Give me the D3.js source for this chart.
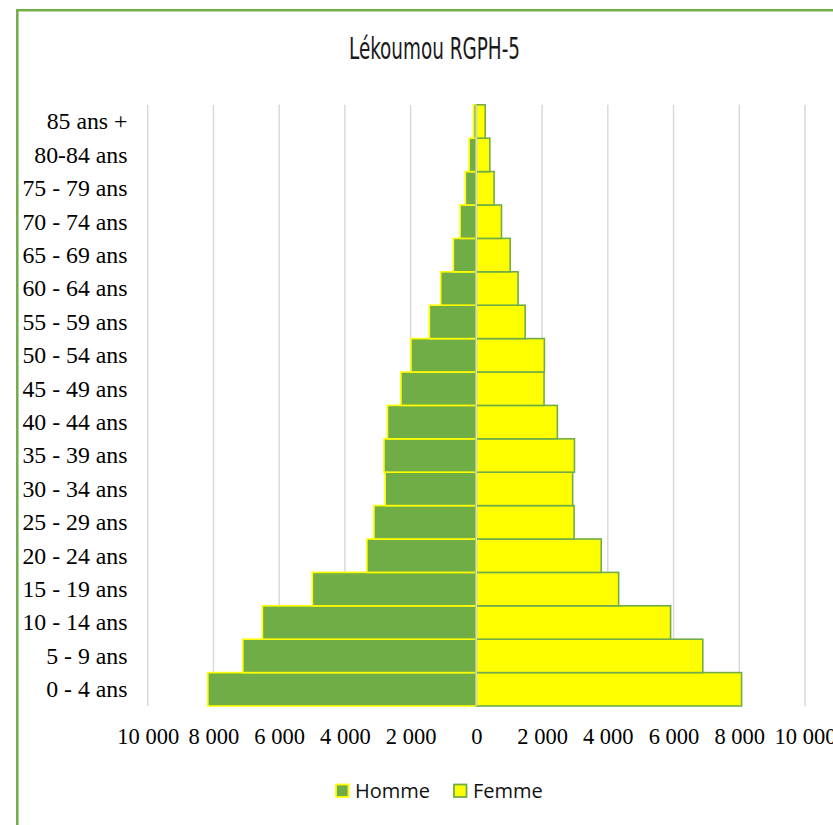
<!DOCTYPE html>
<html>
<head>
<meta charset="utf-8">
<script src="https://cdn.jsdelivr.net/npm/d3@7"></script>
<style>
  body { margin: 0; background: #fff; }
  svg { display: block; }
</style>
</head>
<body>
<svg id="chart" width="833" height="825"></svg>
<script>
// Age groups, bottom to top
const ageGroups = ["0 - 4 ans", "5 - 9 ans", "10 - 14 ans", "15 - 19 ans", "20 - 24 ans",
    "25 - 29 ans", "30 - 34 ans", "35 - 39 ans", "40 - 44 ans", "45 - 49 ans", "50 - 54 ans",
    "55 - 59 ans", "60 - 64 ans", "65 - 69 ans", "70 - 74 ans", "75 - 79 ans", "80-84 ans", "85 ans +"];
const homme = [8170, 7105, 6510, 4990, 3330, 3115, 2775, 2810, 2705, 2295, 1990,
    1430, 1085, 700, 495, 335, 220, 85];
const femme = [8070, 6890, 5910, 4330, 3800, 2975, 2930, 2985, 2465, 2060, 2070,
    1485, 1270, 1030, 765, 540, 410, 270];
const xTicks = [-10000, -8000, -6000, -4000, -2000, 0, 2000, 4000, 6000, 8000, 10000];
const seriesNames = ["Homme", "Femme"];

const green = "#70AD47", yellow = "#FFFF00", grid = "#D9D9D9";

let svg = d3.select("#chart");

// outer frame (runs off the right/bottom edge)
svg.append("rect")
    .attr("x", 17.3).attr("y", 10.2)
    .attr("width", 900).attr("height", 900)
    .attr("fill", "none")
    .attr("stroke", green)
    .attr("stroke-width", 2.5);

let x = d3.scaleLinear().domain([-10000, 10000]).range([147.7, 805]);
let y = d3.scaleBand().domain(ageGroups).range([706, 104.8]).padding(0);

let fr = d3.formatLocale({ decimal: ",", thousands: "\u00a0", grouping: [3], currency: ["", ""] });
let fmt = v => fr.format(",")(Math.abs(v));

// title
svg.append("text")
    .attr("x", 434.5).attr("y", 59.3)
    .attr("text-anchor", "middle")
    .attr("font-family", "'Liberation Sans Narrow', 'DejaVu Sans Condensed', sans-serif")
    .attr("font-size", 30)
    .attr("textLength", 171)
    .attr("lengthAdjust", "spacingAndGlyphs")
    .attr("fill", "#1a1a1a")
    .text("Lékoumou RGPH-5");

// vertical gridlines
svg.append("g").selectAll("line")
    .data(xTicks.filter(d => d != 0))
    .enter()
    .append("line")
    .attr("x1", d => x(d)).attr("x2", d => x(d))
    .attr("y1", 104.8).attr("y2", 706)
    .attr("stroke", grid)
    .attr("stroke-width", 1.5);

// bars
let bars = svg.append("g");
bars.selectAll("rect.homme")
    .data(ageGroups)
    .enter()
    .append("rect")
    .attr("class", "homme")
    .attr("x", (d, i) => x(-homme[i]))
    .attr("y", d => y(d))
    .attr("width", (d, i) => x(0) - x(-homme[i]))
    .attr("height", y.bandwidth())
    .attr("fill", green)
    .attr("stroke", yellow)
    .attr("stroke-width", 1.6);

bars.selectAll("rect.femme")
    .data(ageGroups)
    .enter()
    .append("rect")
    .attr("class", "femme")
    .attr("x", x(0))
    .attr("y", d => y(d))
    .attr("width", (d, i) => x(femme[i]) - x(0))
    .attr("height", y.bandwidth())
    .attr("fill", yellow)
    .attr("stroke", green)
    .attr("stroke-width", 1.6);

// zero axis line
svg.append("line")
    .attr("x1", x(0)).attr("x2", x(0))
    .attr("y1", 104.8).attr("y2", 706)
    .attr("stroke", grid)
    .attr("stroke-width", 1.5);

// category labels
svg.append("g").selectAll("text")
    .data(ageGroups)
    .enter()
    .append("text")
    .attr("x", 127.5)
    .attr("y", d => y(d) + y.bandwidth() / 2)
    .attr("dy", "0.33em")
    .attr("text-anchor", "end")
    .attr("font-family", "'Liberation Serif', 'Times New Roman', serif")
    .attr("font-size", 23.8)
    .attr("fill", "#000")
    .text(d => d);

// x axis labels
let xAxis = svg.append("g")
    .attr("transform", "translate(0,706)")
    .call(d3.axisBottom(x).tickValues(xTicks).tickFormat(fmt).tickSize(0).tickPadding(22));
xAxis.select(".domain").remove();
xAxis.selectAll("text")
    .attr("font-family", "'Liberation Serif', 'Times New Roman', serif")
    .attr("font-size", 22.5)
    .attr("fill", "#000");

// legend
let legend = svg.append("g");
let legendX = [336, 454];
let legendColors = [[green, yellow], [yellow, green]];
seriesNames.forEach((name, i) => {
    legend.append("rect")
        .attr("x", legendX[i]).attr("y", 784.5)
        .attr("width", 12.5).attr("height", 12.5)
        .attr("fill", legendColors[i][0])
        .attr("stroke", legendColors[i][1])
        .attr("stroke-width", 1.8);
    legend.append("text")
        .attr("x", legendX[i] + 19).attr("y", 798)
        .attr("font-family", "'Open Sans', sans-serif")
        .attr("font-size", 20)
        .attr("fill", "#111")
        .text(name);
});
</script>
</body>
</html>
